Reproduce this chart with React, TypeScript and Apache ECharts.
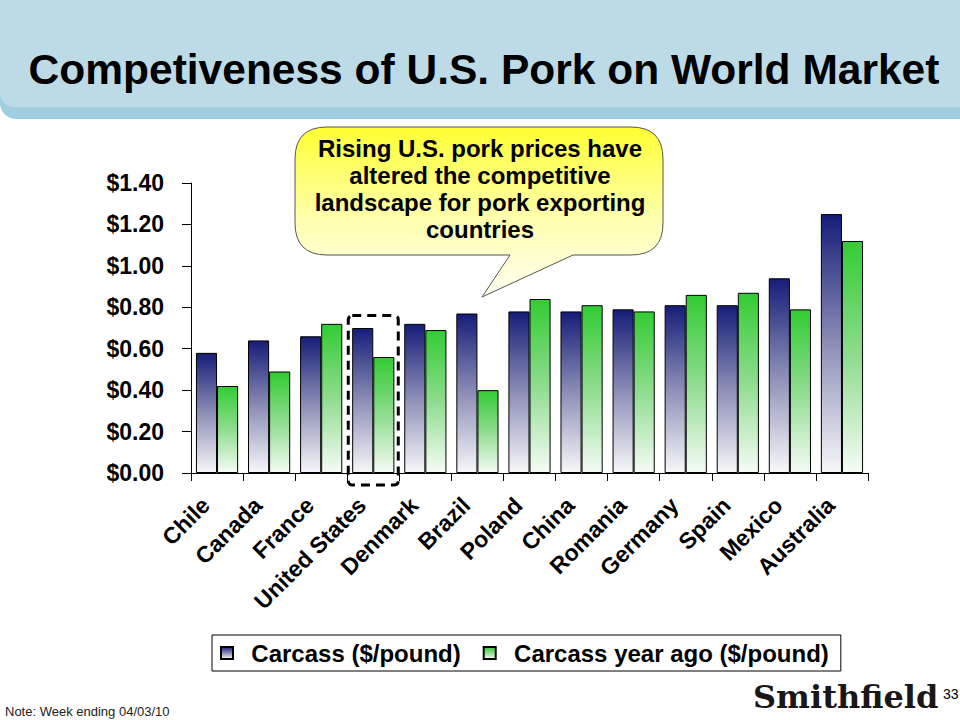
import React, { useEffect, useRef } from "react";
import * as echarts from "echarts";

const categories = ["Chile", "Canada", "France", "United States", "Denmark", "Brazil", "Poland", "China", "Romania", "Germany", "Spain", "Mexico", "Australia"];
const carcass = [0.58, 0.64, 0.66, 0.70, 0.72, 0.77, 0.78, 0.78, 0.79, 0.81, 0.81, 0.94, 1.25];
const carcassYearAgo = [0.42, 0.49, 0.72, 0.56, 0.69, 0.40, 0.84, 0.81, 0.78, 0.86, 0.87, 0.79, 1.12];
const seriesNames = ["Carcass ($/pound)", "Carcass year ago ($/pound)"];
const titleText = "Competiveness of U.S. Pork on World Market";
const calloutLines = ["Rising U.S. pork prices have", "altered the competitive", "landscape for pork exporting", "countries"];
const noteText = "Note: Week ending 04/03/10";
const highlightCategory = "United States";

const FONT = "'Liberation Sans', Arial, sans-serif";

const bubblePath =
  "M 327 127 L 631 127 Q 663 127 663 159 L 663 223 Q 663 255 631 255 L 573 255 L 482 297 L 510 255 L 327 255 Q 295 255 295 223 L 295 159 Q 295 127 327 127 Z";

export default function App() {
  const ref = useRef<HTMLDivElement>(null);
  useEffect(() => {
    if (!ref.current) return;
    echarts.graphic.registerShape("bubble", echarts.graphic.extendPath(bubblePath, {}));
    const chart = echarts.init(ref.current, undefined, { renderer: "svg" });
    const navyGrad = new echarts.graphic.LinearGradient(0, 0, 0, 1, [
      { offset: 0, color: "#161d78" },
      { offset: 0.5, color: "#8c8eb6" },
      { offset: 1, color: "#f7f7fa" },
    ]);
    const greenGrad = new echarts.graphic.LinearGradient(0, 0, 0, 1, [
      { offset: 0, color: "#33cc33" },
      { offset: 0.5, color: "#8fdc8f" },
      { offset: 1, color: "#f5fcf5" },
    ]);
    const option: any = {
      animation: false,
      backgroundColor: "#ffffff",
      grid: { left: 191, right: 92, top: 183, bottom: 247, containLabel: false },
      legend: {
        left: 212,
        top: 635,
        icon: "rect",
        itemWidth: 12,
        itemHeight: 12,
        itemGap: 22,
        padding: [6, 12, 6, 8],
        borderColor: "#000",
        borderWidth: 1,
        formatter: (name: string) => "  " + name,
        textStyle: { fontFamily: FONT, fontWeight: "bold", fontSize: 24, color: "#000" },
        data: seriesNames,
      },
      xAxis: {
        type: "category",
        data: categories,
        axisLine: { lineStyle: { color: "#000", width: 1 } },
        axisTick: { show: true, length: 8, lineStyle: { color: "#000" } },
        axisLabel: {
          interval: 0,
          rotate: 45,
          margin: 17,
          padding: [0, 16, 0, 0],
          fontFamily: FONT,
          fontWeight: "bold",
          fontSize: 23,
          color: "#000",
        },
      },
      yAxis: {
        type: "value",
        min: 0,
        max: 1.4,
        interval: 0.2,
        splitLine: { show: false },
        axisLine: { show: true, lineStyle: { color: "#000", width: 1 } },
        axisTick: { show: true, length: 9, lineStyle: { color: "#000" } },
        axisLabel: {
          margin: 27,
          fontFamily: FONT,
          fontWeight: "bold",
          fontSize: 23,
          color: "#000",
          formatter: (v: number) => "$" + v.toFixed(2),
        },
      },
      series: [
        {
          name: seriesNames[0],
          type: "bar",
          data: carcass,
          barGap: "0%",
          barCategoryGap: "19%",
          itemStyle: { color: navyGrad, borderColor: "#000", borderWidth: 1 },
        },
        {
          name: seriesNames[1],
          type: "bar",
          data: carcassYearAgo,
          barGap: "0%",
          barCategoryGap: "19%",
          itemStyle: { color: greenGrad, borderColor: "#000", borderWidth: 1 },
        },
      ],
      graphic: [
        { type: "rect", z: -5, shape: { x: 0, y: 0, width: 960, height: 119, r: [0, 0, 0, 16] }, style: { fill: "#a0cee1" } },
        { type: "rect", z: -4, shape: { x: 0, y: 0, width: 960, height: 107, r: [0, 0, 0, 14] }, style: { fill: "#bddbe6" } },
        {
          type: "text",
          z: 10,
          x: 484,
          y: 69,
          style: {
            text: titleText,
            font: `bold 42.5px ${FONT}`,
            fill: "#000",
            textAlign: "center",
            textVerticalAlign: "middle",
          },
        },
        {
          type: "bubble",
          z: 20,
          x: 0,
          y: 0,
          style: {
            fill: new echarts.graphic.LinearGradient(0, 0, 0, 1, [
              { offset: 0, color: "#ffff33" },
              { offset: 0.55, color: "#ffffb0" },
              { offset: 1, color: "#fffff2" },
            ]),
            stroke: "#555",
            lineWidth: 1,
          },
        },
        {
          type: "text",
          z: 21,
          x: 480,
          y: 135,
          style: {
            text: calloutLines.join("\n"),
            font: `bold 24px ${FONT}`,
            lineHeight: 27,
            fill: "#000",
            textAlign: "center",
            textVerticalAlign: "top",
          },
        },
        {
          type: "text",
          x: 5,
          y: 711,
          style: { text: noteText, font: `13px ${FONT}`, fill: "#222", textVerticalAlign: "middle" },
        },
        {
          type: "text",
          x: 753,
          y: 697,
          style: { text: "Smithfield", font: "900 32px 'DejaVu Serif'", fill: "#1a1718", textVerticalAlign: "middle" },
        },
        {
          type: "text",
          x: 943,
          y: 694,
          style: { text: "33", font: `14px ${FONT}`, fill: "#000", textVerticalAlign: "middle" },
        },
      ],
    };
    chart.setOption(option);
    // dashed highlight box around the highlighted category
    const idx = categories.indexOf(highlightCategory);
    const cx = chart.convertToPixel({ xAxisIndex: 0 }, idx) as number;
    const yTop = chart.convertToPixel({ yAxisIndex: 0 }, 0.76) as number;
    const yZero = chart.convertToPixel({ yAxisIndex: 0 }, 0) as number;
    chart.setOption({
      graphic: [
        ...option.graphic,
        {
          type: "rect",
          z: 30,
          shape: { x: cx - 25, y: yTop, width: 50, height: yZero - yTop + 12, r: 4 },
          style: { fill: "none", stroke: "#000", lineWidth: 3, lineDash: [9, 6] },
        },
      ],
    });
    return () => chart.dispose();
  }, []);
  return <div ref={ref} style={{ position: "fixed", left: 0, top: 0, width: 960, height: 720 }} />;
}
